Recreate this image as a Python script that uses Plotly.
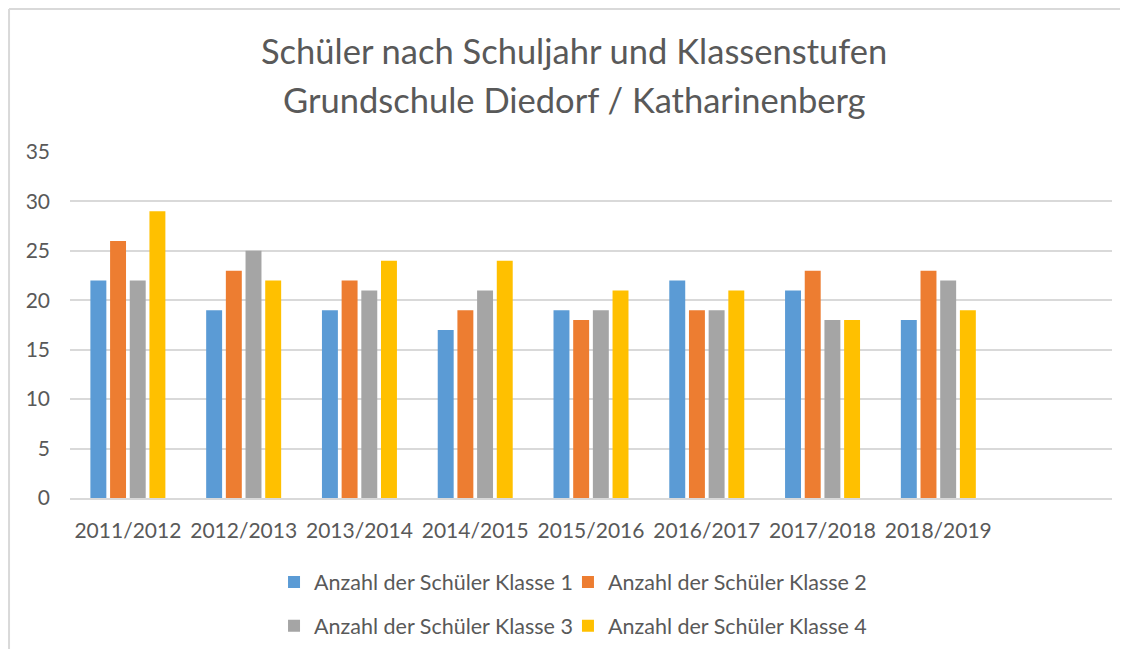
import plotly.graph_objects as go

# school years (a 9th empty slot is kept on the axis like the original)
years = ["2011/2012", "2012/2013", "2013/2014", "2014/2015",
         "2015/2016", "2016/2017", "2017/2018", "2018/2019"]

klasse_1 = [22, 19, 19, 17, 19, 22, 21, 18]
klasse_2 = [26, 23, 22, 19, 18, 19, 23, 23]
klasse_3 = [22, 25, 21, 21, 19, 19, 18, 22]
klasse_4 = [29, 22, 24, 24, 21, 21, 18, 19]

series_names = ["Anzahl der Schüler Klasse 1", "Anzahl der Schüler Klasse 2",
                "Anzahl der Schüler Klasse 3", "Anzahl der Schüler Klasse 4"]
colors = ["#5B9BD5", "#ED7D31", "#A5A5A5", "#FFC000"]

title_lines = ["Schüler nach Schuljahr und Klassenstufen",
               "Grundschule Diedorf / Katharinenberg"]

text_color = "#595959"
grid_color = "#D9D9D9"
font_family = "Lato, Calibri, sans-serif"

# one legend per series so the 2x2 layout sits where the original has it
legend_ids = ["legend", "legend2", "legend3", "legend4"]
legend_x = [0.1958, 0.4779, 0.1958, 0.4779]
legend_y = [-0.243, -0.243, -0.369, -0.369]

fig = go.Figure()
for i, (name, vals) in enumerate(zip(series_names, [klasse_1, klasse_2, klasse_3, klasse_4])):
    fig.add_trace(go.Bar(
        x=years,
        y=vals,
        name=name,
        marker=dict(color=colors[i], line=dict(width=0)),
        legend=legend_ids[i],
    ))

legends = {}
for lid, lx, ly in zip(legend_ids, legend_x, legend_y):
    legends[lid] = dict(
        orientation="h",
        xanchor="left",
        yanchor="middle",
        x=lx,
        y=ly,
        font=dict(family=font_family, size=21.5, color=text_color),
        bgcolor="rgba(0,0,0,0)",
    )

# page body adds an 8px margin on every side; keep the figure inside the window
fig.update_layout(
    width=1112,
    height=641,
    margin=dict(l=62, r=8, t=144, b=151, autoexpand=False),
    paper_bgcolor="white",
    plot_bgcolor="white",
    barmode="group",
    bargap=0.32,
    bargroupgap=0.19,
    font=dict(family=font_family, color=text_color),
    showlegend=True,
    xaxis=dict(
        type="category",
        categoryorder="array",
        categoryarray=years,
        range=[-0.5, len(years) + 0.5],
        showgrid=False,
        showline=True,
        linecolor=grid_color,
        linewidth=1.5,
        ticks="",
        ticklabelstandoff=13,
        tickfont=dict(family=font_family, size=21, color=text_color),
    ),
    yaxis=dict(
        range=[0, 35],
        dtick=5,
        showgrid=True,
        gridcolor=grid_color,
        gridwidth=1.5,
        zeroline=False,
        showline=False,
        ticks="",
        ticklabelstandoff=19,
        tickfont=dict(family=font_family, size=21, color=text_color),
    ),
    **legends,
)

# two-line chart title
for line, y in zip(title_lines, [1.292, 1.152]):
    fig.add_annotation(
        text=line, xref="paper", yref="paper", x=0.4837, y=y,
        xanchor="center", yanchor="middle", showarrow=False,
        font=dict(family=font_family, size=34.5, color=text_color),
    )

# light chart frame: only the top and left edges are inside the picture
frame_style = dict(type="line", xref="paper", yref="paper",
                   line=dict(color=grid_color, width=2), layer="below")
fig.add_shape(x0=-0.0585, x1=1.03, y0=1.413, y1=1.413, **frame_style)
fig.add_shape(x0=-0.0585, x1=-0.0585, y0=-0.49, y1=1.413, **frame_style)

fig.write_html("out.html")
